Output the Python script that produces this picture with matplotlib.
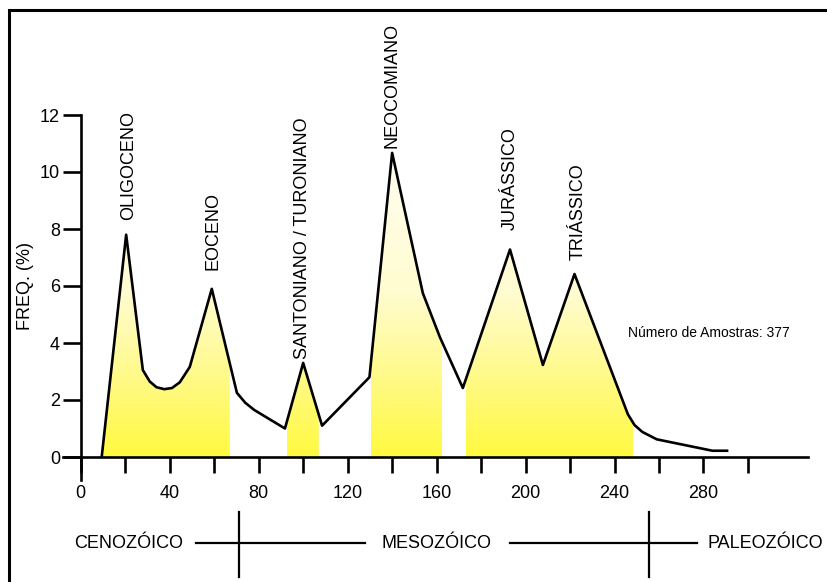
import numpy as np
import matplotlib
matplotlib.use("Agg")
import matplotlib.pyplot as plt
from matplotlib.colors import LinearSegmentedColormap
from matplotlib.patches import Polygon, Rectangle
from matplotlib.transforms import blended_transform_factory

plt.rcParams['font.family'] = ['Liberation Sans', 'DejaVu Sans']

# age (Ma) and frequency (%)
age = [9.4, 20.4, 27.9, 31.0, 34.0, 37.5, 41.0, 44.5, 49.0, 58.9, 70.2, 74.0,
       78.0, 91.8, 100.0, 108.5, 129.8, 140.0, 153.8, 161.5, 171.8, 193.0,
       207.8, 222.0, 246.0, 249.0, 252.5, 259.0, 284.0, 290.6]
freq = [0.0, 7.8, 3.05, 2.65, 2.45, 2.38, 2.42, 2.62, 3.16, 5.9, 2.25, 1.9,
        1.65, 1.0, 3.3, 1.1, 2.8, 10.67, 5.75, 4.2, 2.42, 7.28,
        3.23, 6.42, 1.5, 1.12, 0.88, 0.62, 0.22, 0.22]

# shaded intervals (Ma)
shade_start = [9.4, 92.5, 130.4, 173.2]
shade_end = [67.0, 107.0, 162.4, 248.3]

periods = ["OLIGOCENO", "EOCENO", "SANTONIANO / TURONIANO", "NEOCOMIANO",
           "JURÁSSICO", "TRIÁSSICO"]
period_x = [21.6, 59.4, 99.8, 139.8, 193.0, 223.5]
period_y = [8.3, 6.55, 3.45, 10.85, 7.95, 6.9]

eras = ["CENOZÓICO", "MESOZÓICO", "PALEOZÓICO"]
era_bounds = [71.0, 255.5]

fig = plt.figure(figsize=(8.27, 5.82), dpi=100)
ax = fig.add_axes([63 / 827, 125 / 582, 745 / 827, 342 / 582])
ax.set_xlim(-8, 327)
ax.set_ylim(0, 12)

# yellow gradient fill under the curve, clipped to each interval
cmap = LinearSegmentedColormap.from_list(
    "yel", [(0.0, "#fff940"), (0.25, "#fffa8a"), (0.5, "#fffcd0"), (1.0, "#fffef6")])
grad = np.linspace(0, 1, 256).reshape(-1, 1)
xs = np.array(age)
ys = np.array(freq)
for a, b in zip(shade_start, shade_end):
    gx = np.linspace(a, b, 200)
    gy = np.interp(gx, xs, ys)
    verts = [(a, 0)] + list(zip(gx, gy)) + [(b, 0)]
    poly = Polygon(verts, closed=True, facecolor="none", edgecolor="none")
    ax.add_patch(poly)
    im = ax.imshow(grad, extent=(a, b, 0, 11.5), origin="lower", cmap=cmap,
                   aspect="auto", zorder=1)
    im.set_clip_path(poly)

ax.plot(age, freq, color="black", lw=1.9, zorder=3, solid_joinstyle="round")

# axes
for s in ["top", "right"]:
    ax.spines[s].set_visible(False)
ax.spines["left"].set_position(("data", 0))
ax.spines["left"].set_bounds(-0.8, 12)
ax.spines["bottom"].set_bounds(-8, 327)
for s in ["left", "bottom"]:
    ax.spines[s].set_linewidth(1.9)
ax.set_yticks([0, 2, 4, 6, 8, 10, 12])
ax.set_xticks([0, 40, 80, 120, 160, 200, 240, 280])
ax.set_xticks([20, 60, 100, 140, 180, 220, 260, 300], minor=True)
ax.tick_params(axis="y", direction="out", length=13, width=1.9, labelsize=13, pad=2)
ax.tick_params(axis="x", which="both", direction="out", length=11.5, width=1.9,
               labelsize=13, pad=9)
ax.set_ylabel("FREQ. (%)", fontsize=13, labelpad=4)
ax.set_facecolor("none")

for name, x, y in zip(periods, period_x, period_y):
    ax.text(x, y, name, rotation=90, ha="center", va="bottom", fontsize=13,
            clip_on=False)

ax.text(246, 4.35, "Número de Amostras: 377", fontsize=10, ha="left", va="center")

# era bar under the axis
tr = blended_transform_factory(ax.transData, fig.transFigure)
ybar = 1 - 543 / 582
ax.plot([era_bounds[0]] * 2, [1 - 512 / 582, 1 - 577 / 582], color="black",
        lw=1.6, transform=tr, clip_on=False)
ax.plot([era_bounds[1]] * 2, [1 - 512 / 582, 1 - 577 / 582], color="black",
        lw=1.6, transform=tr, clip_on=False)
ax.plot([52, 128], [ybar, ybar], color="black", lw=1.6, transform=tr, clip_on=False)
ax.plot([193, 277], [ybar, ybar], color="black", lw=1.6, transform=tr, clip_on=False)
ax.text(46, ybar, eras[0], fontsize=13, ha="right", va="center", transform=tr)
ax.text(160, ybar, eras[1], fontsize=13, ha="center", va="center", transform=tr)
ax.text(282, ybar, eras[2], fontsize=13, ha="left", va="center", transform=tr)

# outer frame (left and top edges visible)
fig.patches.append(Rectangle((8.5 / 827, -0.1), 1.2, 1 - 9.5 / 582 + 0.1,
                             transform=fig.transFigure, fill=False,
                             edgecolor="black", lw=2.2))

fig.savefig("out.png", dpi=100)
